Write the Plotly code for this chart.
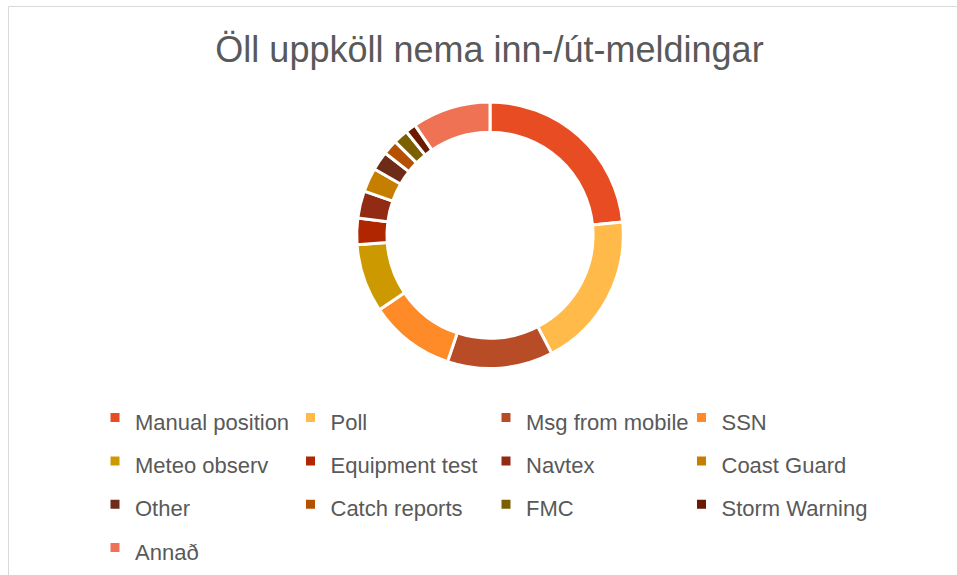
import plotly.graph_objects as go

# === Data ===
labels = ['Manual position', 'Poll', 'Msg from mobile', 'SSN', 'Meteo observ',
          'Equipment test', 'Navtex', 'Coast Guard', 'Other', 'Catch reports',
          'FMC', 'Storm Warning', 'Annað']
values = [23.4, 18.9, 12.8, 10.4, 8.3, 3.2, 3.3, 2.9, 2.3, 1.8, 1.8, 1.3, 9.5]
colors = ['#E84C22', '#FFBA49', '#B84C27', '#FF8A28', '#CC9A00', '#B02600',
          '#922B14', '#C67E00', '#6E2B18', '#B35100', '#7A6000', '#6A1A00',
          '#EE7253']

W, H = 957, 575

fig = go.Figure()

fig.add_trace(go.Pie(
    labels=[f'<span style="font-size:22px">{l}</span>' for l in labels],
    values=values,
    hole=0.773,
    sort=False,
    direction='clockwise',
    rotation=0,
    marker=dict(colors=colors, line=dict(color='white', width=3)),
    textinfo='none',
    hoverinfo='label+percent',
    domain=dict(x=[356 / W, 624 / W], y=[1 - 370.5 / H, 1 - 102.5 / H]),
))

# === Layout ===
fig.update_layout(
    width=W, height=H,
    paper_bgcolor='white',
    plot_bgcolor='white',
    margin=dict(l=0, r=0, t=0, b=0),
    font=dict(family='Liberation Sans, Arial, sans-serif', color='#595959'),
    title=dict(
        text='Öll uppköll nema inn-/út-meldingar',
        font=dict(size=36, color='#595959'),
        x=489.5 / W, xanchor='center',
        y=1 - 49 / H, yanchor='middle',
    ),
    showlegend=True,
    legend=dict(
        orientation='h',
        x=95 / W, xanchor='left',
        y=1 - 393 / H, yanchor='top',
        font=dict(size=31, color='#595959'),
        entrywidth=150.5,
        entrywidthmode='pixels',
        itemclick=False,
        bgcolor='rgba(0,0,0,0)',
    ),
)

# рамка области диаграммы (как в Excel)
fig.add_shape(type='line', xref='paper', yref='paper',
              x0=8.5 / W, x1=1.02, y0=1 - 6.5 / H, y1=1 - 6.5 / H,
              line=dict(color='#D9D9D9', width=1))
fig.add_shape(type='line', xref='paper', yref='paper',
              x0=8.5 / W, x1=8.5 / W, y0=1 - 6.5 / H, y1=-0.02,
              line=dict(color='#D9D9D9', width=1))

# убрать отступ body, чтобы фигура начиналась с (0, 0)
fig.write_html("out.html", config={'displayModeBar': False},
               post_script="document.body.style.margin='0';")
